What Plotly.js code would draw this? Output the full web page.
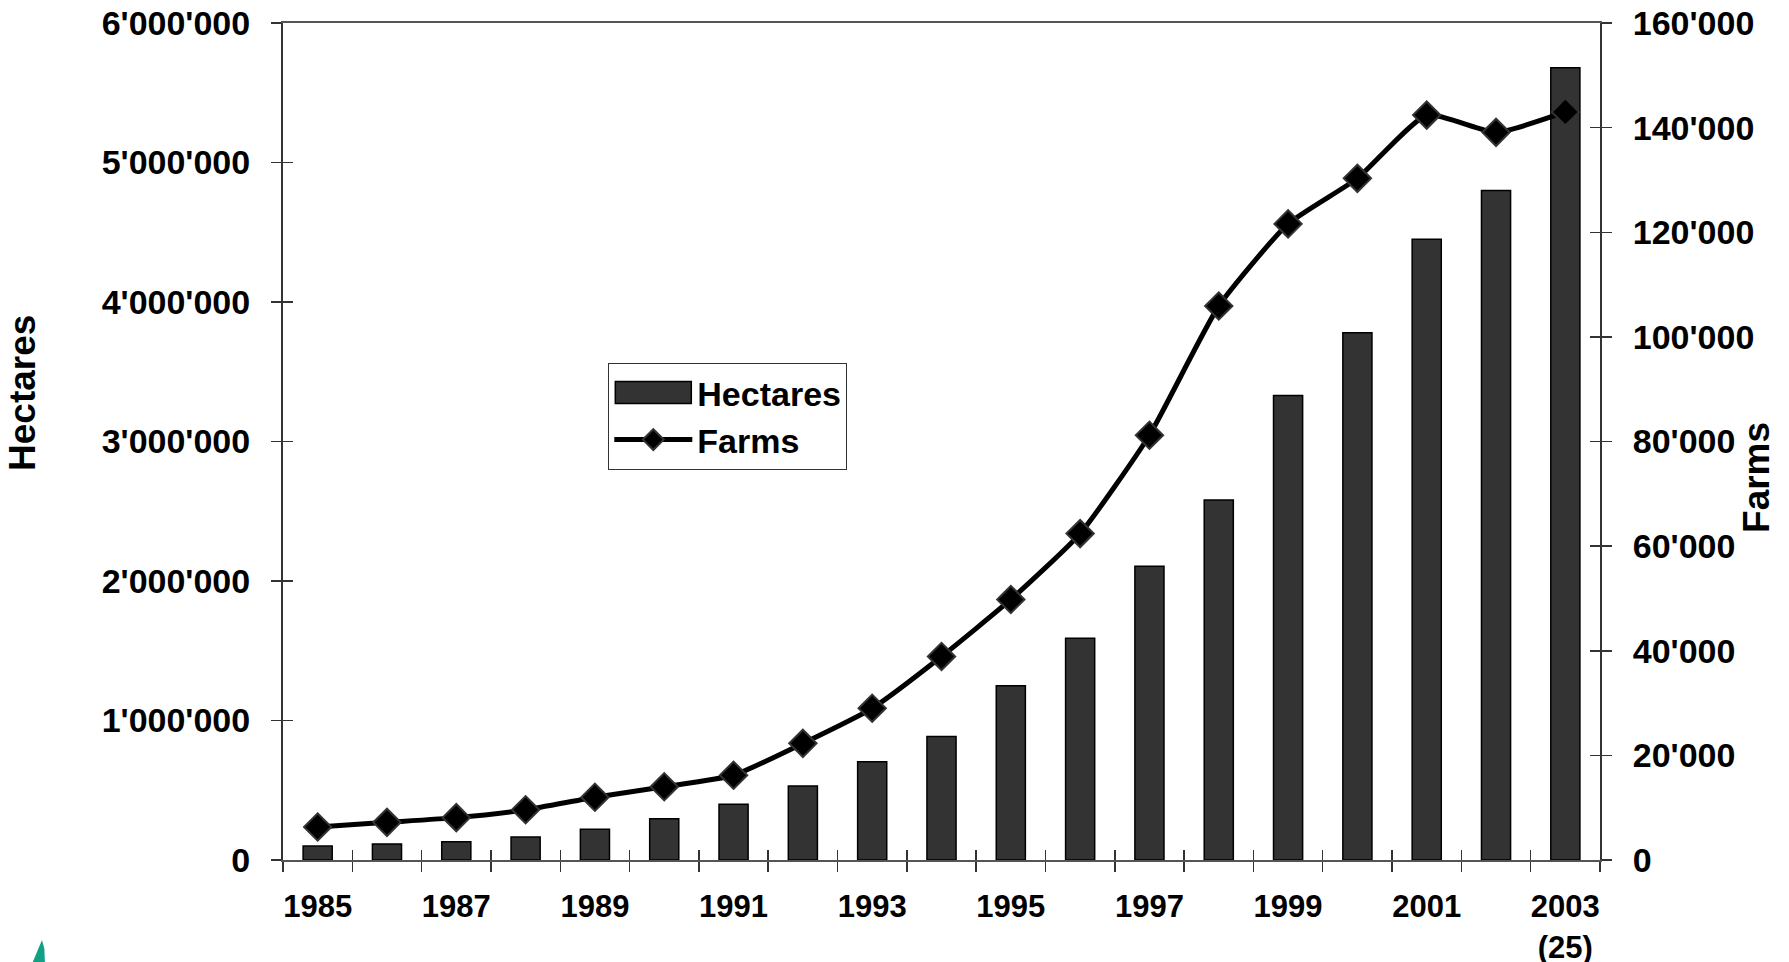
<!DOCTYPE html>
<html>
<head>
<meta charset="utf-8">
<script src="https://cdn.plot.ly/plotly-3.0.1.min.js"></script>
<style>
html,body{margin:0;padding:0;background:#fff;}
#chart{width:1789px;height:962px;}
</style>
</head>
<body>
<div id="chart"></div>
<script>
const years = [1985,1986,1987,1988,1989,1990,1991,1992,1993,1994,1995,1996,1997,1998,1999,2000,2001,2002,2003];
const hectares = [100000,115000,130000,165000,220000,295000,400000,530000,705000,885000,1250000,1590000,2105000,2580000,3330000,3780000,4450000,4800000,5680000];
const farms = [6300,7200,8100,9600,12000,14000,16200,22300,29000,38900,49800,62400,81200,105900,121600,130300,142400,139100,143000];
const xTickVals = [1985,1987,1989,1991,1993,1995,1997,1999,2001,2003];
const xTickText = ['1985','1987','1989','1991','1993','1995','1997','1999','2001','2003<br>(25)'];
const boundaries = years.map(y => y - 0.5).concat([years[years.length-1] + 0.5]);
const hectareTicks = [0,1000000,2000000,3000000,4000000,5000000,6000000];
const farmTicks = [0,20000,40000,60000,80000,100000,120000,140000,160000];

const FONT = 'Liberation Sans, Arial, sans-serif';
const xRange = [years[0]-0.5, years[years.length-1]+0.5];
const yRange = [0, 6000000];
const y2Range = [0, 160000];

const traces = [
  {
    type: 'bar', name: 'Hectares', x: years, y: hectares,
    width: 0.42,
    marker: {color: '#333333', line: {color: '#000000', width: 1.5}},
    xaxis: 'x', yaxis: 'y'
  },
  {
    type: 'scatter', mode: 'lines+markers', name: 'Farms', x: years, y: farms,
    line: {color: '#000000', width: 5, shape: 'spline', smoothing: 0.5},
    marker: {symbol: 'diamond', size: 21, color: '#000000', line: {color: '#333333', width: 2}},
    xaxis: 'x2', yaxis: 'y2'
  },
  {type: 'scatter', x: [], y: [], xaxis: 'x', yaxis: 'y3', showlegend: false, hoverinfo: 'skip'},
  {type: 'scatter', x: [], y: [], xaxis: 'x', yaxis: 'y4', showlegend: false, hoverinfo: 'skip'}
];

const tickFontY = {family: FONT, size: 34, color: '#000', weight: 'bold'};
const tickFontX = {family: FONT, size: 31, color: '#000', weight: 'bold'};

const layout = {
  width: 1789, height: 962,
  margin: {l: 283, r: 189, t: 23, b: 102, pad: 0},
  paper_bgcolor: '#ffffff', plot_bgcolor: '#ffffff',
  separators: ".'",
  font: {family: FONT, color: '#000', weight: 'bold'},
  showlegend: true,
  legend: {
    x: 0.247, y: 0.594, xanchor: 'left', yanchor: 'top',
    bgcolor: '#ffffff', bordercolor: '#333333', borderwidth: 1,
    font: {family: FONT, size: 34, color: '#000', weight: 'bold'},
    itemwidth: 78, tracegroupgap: 4
  },
  xaxis: {
    range: xRange, tickmode: 'array', tickvals: xTickVals, ticktext: xTickText,
    ticks: 'outside', ticklen: 10, tickcolor: 'rgba(0,0,0,0)',
    minor: {tickmode: 'array', tickvals: boundaries, ticks: 'outside', ticklen: 10, tickwidth: 1.5, tickcolor: '#333333'},
    ticklabelstandoff: 8,
    tickfont: tickFontX,
    showline: true, linecolor: '#555555', linewidth: 2, mirror: true,
    showgrid: false, zeroline: false, fixedrange: true
  },
  xaxis2: {
    overlaying: 'x', anchor: 'y', side: 'bottom', range: xRange,
    tickmode: 'array', tickvals: boundaries, ticks: 'inside', ticklen: 10, tickwidth: 1.5, tickcolor: '#333333',
    showticklabels: false, showline: false, showgrid: false, zeroline: false
  },
  yaxis: {
    range: yRange, tickmode: 'array', tickvals: hectareTicks, tickformat: ',d',
    ticks: 'outside', ticklen: 10, tickwidth: 1.5, tickcolor: '#333333',
    ticklabelstandoff: 14,
    tickfont: tickFontY,
    showline: true, linecolor: '#333333', linewidth: 2,
    showgrid: false, zeroline: false, fixedrange: true
  },
  yaxis2: {
    overlaying: 'y', side: 'right', anchor: 'x', range: y2Range,
    tickmode: 'array', tickvals: farmTicks, tickformat: ',d',
    ticks: 'outside', ticklen: 10, tickwidth: 1.5, tickcolor: '#333333',
    ticklabelstandoff: 14,
    tickfont: tickFontY,
    showline: true, linecolor: '#333333', linewidth: 2,
    showgrid: false, zeroline: false
  },
  yaxis3: {
    overlaying: 'y', side: 'left', anchor: 'x', range: yRange,
    tickmode: 'array', tickvals: hectareTicks, ticks: 'inside', ticklen: 10, tickwidth: 1.5, tickcolor: '#333333',
    showticklabels: false, showline: false, showgrid: false, zeroline: false
  },
  yaxis4: {
    overlaying: 'y', side: 'right', anchor: 'x', range: y2Range,
    tickmode: 'array', tickvals: farmTicks, ticks: 'inside', ticklen: 10, tickwidth: 1.5, tickcolor: '#333333',
    showticklabels: false, showline: false, showgrid: false, zeroline: false
  },
  annotations: [
    {text: 'Hectares', xref: 'paper', yref: 'paper', x: -0.1974, y: 0.558, textangle: -90,
     showarrow: false, xanchor: 'center', yanchor: 'middle',
     font: {family: FONT, size: 37, color: '#000', weight: 'bold'}},
    {text: 'Farms', xref: 'paper', yref: 'paper', x: 1.1192, y: 0.4576, textangle: -90,
     showarrow: false, xanchor: 'center', yanchor: 'middle',
     font: {family: FONT, size: 37, color: '#000', weight: 'bold'}}
  ],
  shapes: [
    {type: 'path', xref: 'paper', yref: 'paper',
     path: 'M -0.1830,-0.0956 L -0.1812,-0.1060 L -0.1808,-0.1219 L -0.1900,-0.1219 Z',
     fillcolor: '#12a085', line: {width: 0}}
  ]
};

function widenBarSwatch(gd) {
  try {
    const legend = gd.querySelector('g.legend');
    if (!legend) return;
    const items = legend.querySelectorAll('g.traces');
    let linePath = null, barPath = null;
    items.forEach(function(it){
      const txt = it.querySelector('text.legendtext');
      const name = txt ? txt.textContent : '';
      const pts = it.querySelector('g.legendpoints');
      if (!pts) return;
      if (name === 'Farms') {
        const lp = it.querySelector('g.legendlines path');
        if (lp) linePath = lp;
      } else if (name === 'Hectares') {
        const paths = pts.querySelectorAll('path');
        if (paths.length) barPath = paths[0];
      }
    });
    if (!linePath || !barPath) return;
    const svg = gd.querySelector('svg.main-svg');
    const lr = linePath.getBoundingClientRect();
    const br = barPath.getBoundingClientRect();
    const parent = barPath.parentNode;
    const inv = parent.getScreenCTM().inverse();
    const p = svg.createSVGPoint();
    p.x = lr.left + 1; p.y = br.top + br.height / 2;
    const a = p.matrixTransform(inv);
    p.x = lr.right - 1;
    const b = p.matrixTransform(inv);
    barPath.removeAttribute('transform');
    barPath.setAttribute('d', 'M' + a.x + ',' + (a.y - 11) + 'H' + b.x + 'V' + (a.y + 11) + 'H' + a.x + 'Z');
  } catch (e) {}
}

Plotly.newPlot('chart', traces, layout, {displayModeBar: false, staticPlot: true}).then(function(gd){
  widenBarSwatch(gd);
  setTimeout(function(){ widenBarSwatch(gd); }, 50);
});
</script>
</body>
</html>
